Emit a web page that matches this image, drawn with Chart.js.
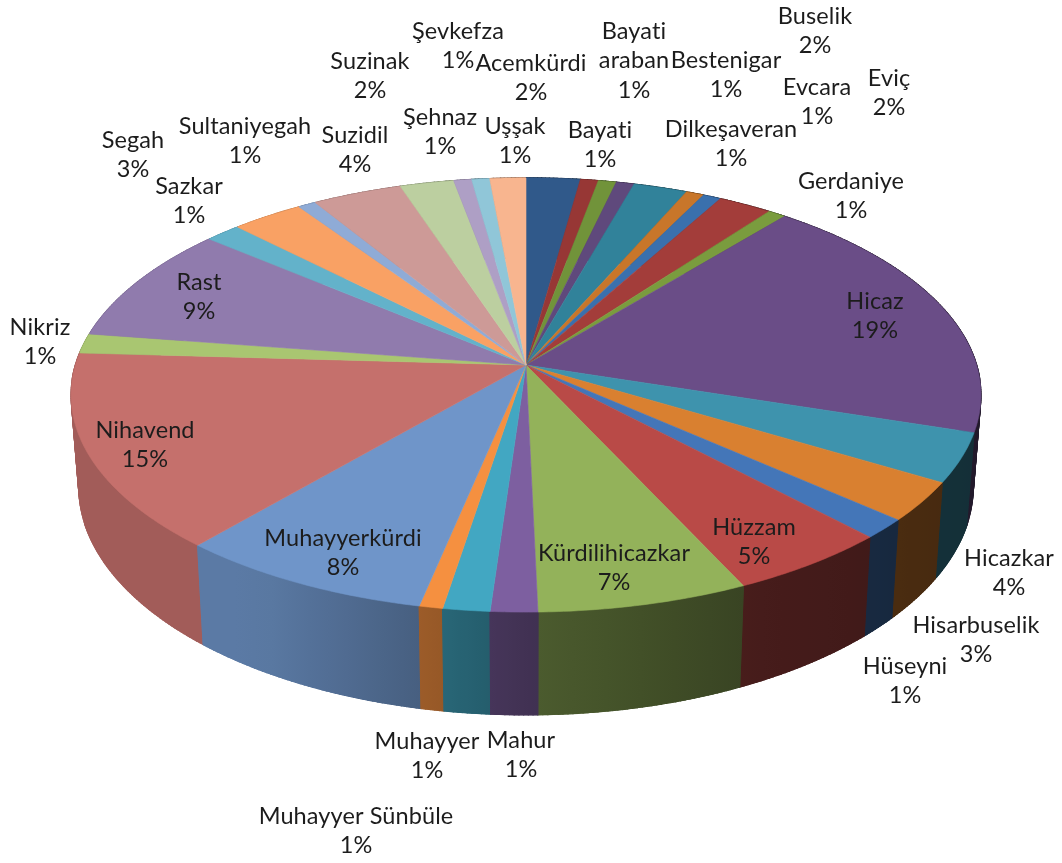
<!DOCTYPE html>
<html>
<head>
<meta charset="utf-8">
<title>Makam</title>
<style>
  body { margin: 0; background: #fff; }
  #pie { display: block; }
</style>
<script src="https://cdn.jsdelivr.net/npm/chart.js@4"></script>
</head>
<body>
<canvas id="pie" width="1062" height="863"></canvas>
<script>
let makams = ['Acemkürdi', 'Bayati', 'Bayati araban', 'Bestenigar', 'Buselik', 'Dilkeşaveran', 'Evcara', 'Eviç', 'Gerdaniye',
  'Hicaz', 'Hicazkar', 'Hisarbuselik', 'Hüseyni', 'Hüzzam', 'Kürdilihicazkar', 'Mahur', 'Muhayyer', 'Muhayyer Sünbüle',
  'Muhayyerkürdi', 'Nihavend', 'Nikriz', 'Rast', 'Sazkar', 'Segah', 'Sultaniyegah', 'Suzidil', 'Suzinak', 'Şehnaz', 'Şevkefza', 'Uşşak'];
let counts = [3, 1, 1, 1, 3, 1, 1, 3, 1, 26, 5, 4, 2, 7, 9, 2, 2, 1, 11, 20, 2, 12, 2, 4, 1, 5, 3, 1, 1, 2];
let sliceColors = ['#30598a', '#973735', '#71933a', '#5f497c', '#31829a', '#c8762a', '#3a70ad', '#a33d3a', '#7a9c3e',
  '#6a4d87', '#3e93ad', '#d98030', '#4476b8', '#b94a47', '#93b25a', '#7d5fa0', '#42a7c2', '#f59040',
  '#6f95c9', '#c5706c', '#a9c671', '#907bad', '#63b2ca', '#f9a164', '#8fabd6', '#cd9a97', '#bccfa0', '#ae9fc5', '#90c6d8', '#f8b58f'];

// where each label sits: x centre, y of first line (middle of the text)
let labelX = [531, 600, 634, 726, 815, 731, 817, 889, 851, 875, 1009, 976, 905, 754, 614, 521, 427, 356, 343, 145, 40, 199, 189, 133, 245, 355, 370, 440, 458, 515];
let labelY = [63, 130, 31, 60, 16, 129, 87, 78, 181, 301, 558, 625, 666, 527, 553, 740, 741, 816, 538, 430, 327, 282, 186, 140, 126, 135, 61, 117, 31, 126];

// the disc in perspective: top face and bottom face
let topFace = { x: 526, y: 365, a: 450.6, b: 213 };
let bottomFace = { x: 526, y: 455, a: 443, b: 224 };
let tilt = 0.138;

function project(face, angle) {
  let u = Math.sin(angle);
  let v = -Math.cos(angle);
  let w = 1 - tilt * v;
  return { x: face.x + face.a * u / w, y: face.y + face.b * v / w };
}

function rimPoints(face, start, end) {
  let pts = [];
  let steps = Math.max(2, Math.ceil((end - start) / 0.01));
  for (let i = 0; i <= steps; i++) {
    pts.push(project(face, start + (end - start) * i / steps));
  }
  return pts;
}

// side wall gets darker from left to right
function sideShade(x) {
  let t = (x - 526) / 450;
  if (t < -0.6) return 0.82;
  if (t < 0) return 0.82 - (t + 0.6) * 0.5;
  if (t < 0.5) return 0.52 - t * 0.28;
  return 0.38 - (t - 0.5) * 0.12;
}

function shadeColor(hex, f) {
  let r = parseInt(hex.substr(1, 2), 16);
  let g = parseInt(hex.substr(3, 2), 16);
  let b = parseInt(hex.substr(5, 2), 16);
  return 'rgb(' + Math.round(r * f) + ',' + Math.round(g * f) + ',' + Math.round(b * f) + ')';
}

function drawSide(ctx, start, end, color) {
  let upper = rimPoints(topFace, start, end);
  let lower = rimPoints(bottomFace, start, end);
  let x0 = Infinity;
  let x1 = -Infinity;
  upper.concat(lower).forEach(function (p) {
    x0 = Math.min(x0, p.x);
    x1 = Math.max(x1, p.x);
  });
  let grad = ctx.createLinearGradient(x0, 0, x1 + 0.01, 0);
  for (let i = 0; i <= 6; i++) {
    grad.addColorStop(i / 6, shadeColor(color, sideShade(x0 + (x1 - x0) * i / 6)));
  }
  ctx.fillStyle = grad;
  ctx.strokeStyle = grad;
  // small quads first, a single polygon would cut off the silhouette at the far left and right
  ctx.lineWidth = 1.2;
  for (let i = 0; i < upper.length - 1; i++) {
    ctx.beginPath();
    ctx.moveTo(upper[i].x, upper[i].y);
    ctx.lineTo(upper[i + 1].x, upper[i + 1].y);
    ctx.lineTo(lower[i + 1].x, lower[i + 1].y);
    ctx.lineTo(lower[i].x, lower[i].y);
    ctx.closePath();
    ctx.fill();
    ctx.stroke();
  }
  // then the polygon on top, this hides the seams between the quads
  ctx.lineWidth = 0.6;
  ctx.beginPath();
  upper.forEach(function (p, i) {
    if (i === 0) ctx.moveTo(p.x, p.y);
    else ctx.lineTo(p.x, p.y);
  });
  lower.reverse().forEach(function (p) {
    ctx.lineTo(p.x, p.y);
  });
  ctx.closePath();
  ctx.fill();
  ctx.stroke();
}

function drawTop(ctx, start, end, color) {
  ctx.beginPath();
  ctx.moveTo(topFace.x, topFace.y);
  rimPoints(topFace, start, end).forEach(function (p) {
    ctx.lineTo(p.x, p.y);
  });
  ctx.closePath();
  ctx.fillStyle = color;
  ctx.strokeStyle = color;
  ctx.lineWidth = 0.6;
  ctx.fill();
  ctx.stroke();
}

// chart.js has no 3d pie, so the arcs are re-projected here from their own angles
let pie3d = {
  id: 'pie3d',
  beforeDatasetsDraw(chart) {
    let ctx = chart.ctx;
    let arcs = chart.getDatasetMeta(0).data;
    let order = arcs.map(function (arc, i) { return i; });
    // back to front so the nearest walls end up on top
    order.sort(function (a, b) {
      let ma = (arcs[a].startAngle + arcs[a].endAngle) / 2 + Math.PI / 2;
      let mb = (arcs[b].startAngle + arcs[b].endAngle) / 2 + Math.PI / 2;
      return -Math.cos(ma) - -Math.cos(mb);
    });
    ctx.save();
    order.forEach(function (i) {
      drawSide(ctx, arcs[i].startAngle + Math.PI / 2, arcs[i].endAngle + Math.PI / 2, sliceColors[i]);
    });
    arcs.forEach(function (arc, i) {
      drawTop(ctx, arc.startAngle + Math.PI / 2, arc.endAngle + Math.PI / 2, sliceColors[i]);
    });
    ctx.restore();
    return false;
  },
  afterDraw(chart) {
    let ctx = chart.ctx;
    let total = counts.reduce(function (a, b) { return a + b; }, 0);
    ctx.save();
    ctx.font = '23.5px Lato';
    ctx.letterSpacing = '0.1px';
    ctx.fillStyle = '#1c1c1c';
    ctx.textAlign = 'center';
    ctx.textBaseline = 'middle';
    makams.forEach(function (name, i) {
      let lines = name === 'Bayati araban' ? ['Bayati', 'araban'] : [name];
      lines.push(Math.round(counts[i] / total * 100) + '%');
      lines.forEach(function (line, j) {
        ctx.fillText(line, labelX[i], labelY[i] + j * 29.5);
      });
    });
    ctx.restore();
  }
};

new Chart(document.getElementById('pie'), {
  type: 'pie',
  data: {
    labels: makams,
    datasets: [{ data: counts, backgroundColor: sliceColors, borderWidth: 0 }]
  },
  options: {
    responsive: false,
    animation: false,
    plugins: { legend: { display: false }, tooltip: { enabled: false } }
  },
  plugins: [pie3d]
});
</script>
</body>
</html>
